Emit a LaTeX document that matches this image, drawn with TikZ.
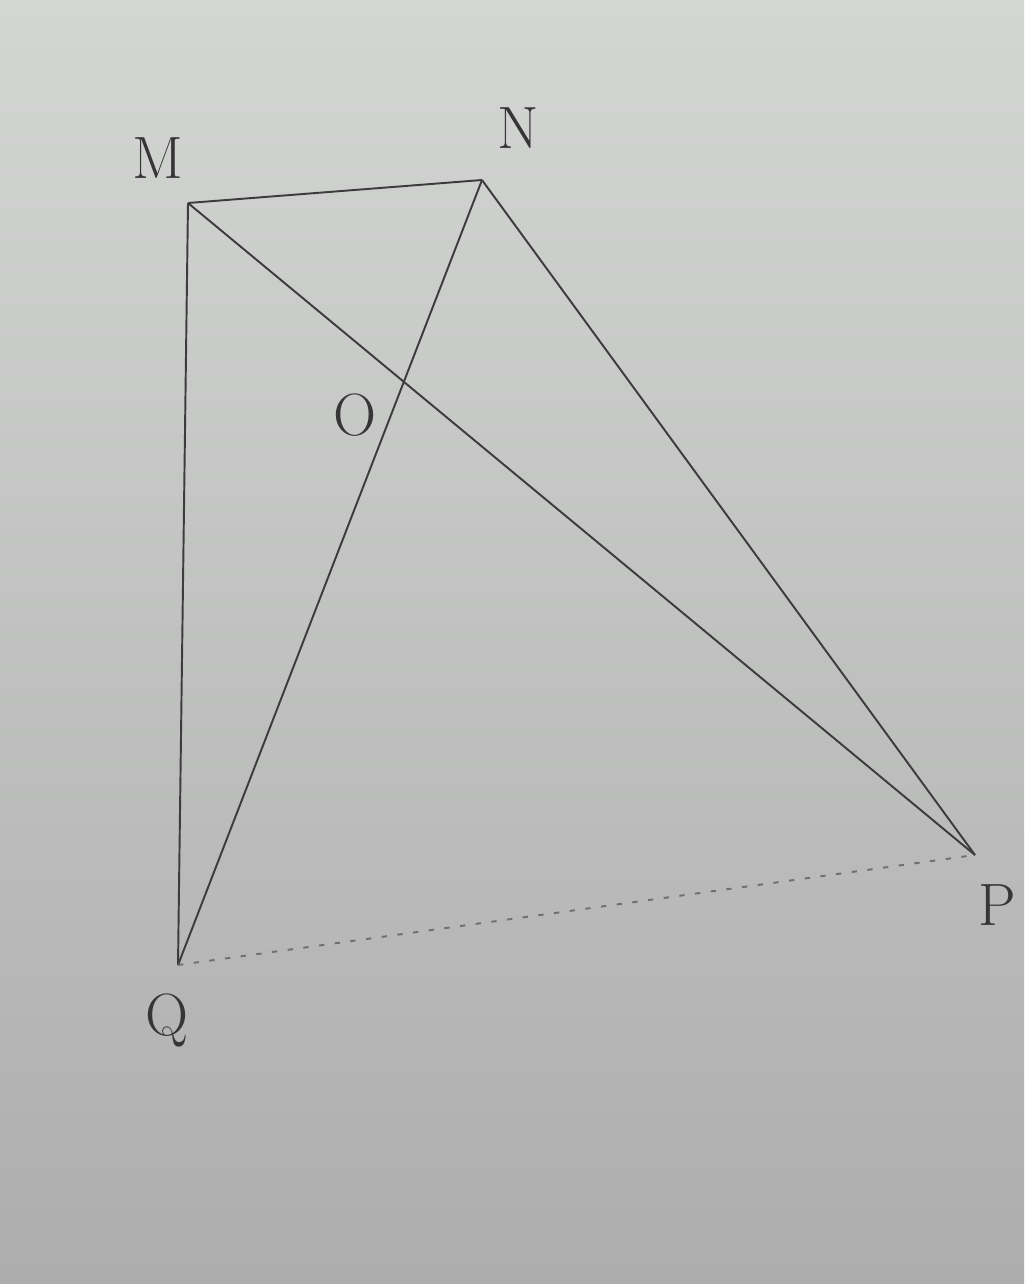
\documentclass[tikz,border=0pt]{standalone}
\usetikzlibrary{calc}
\definecolor{papertop}{RGB}{212,214,212}
\definecolor{paperbot}{RGB}{172,173,172}
\definecolor{pencil}{RGB}{60,60,60}
\begin{document}
\begin{tikzpicture}[
  seg/.style={draw=pencil, line width=1.1pt},
  faint/.style={draw=pencil!55!paperbot, line width=1.1pt, dash pattern=on 3pt off 6pt},
  lbl/.style={text=pencil!90!black, font=\fontsize{34}{38}\selectfont, inner sep=0pt}
]
\shade[top color=papertop, bottom color=paperbot] (0,0) rectangle (20.48,-25.68);
\useasboundingbox (0,0) rectangle (20.48,-25.68);
\coordinate (M) at (3.76,-4.06);
\coordinate (N) at (9.64,-3.60);
\coordinate (P) at (19.50,-17.10);
\coordinate (Q) at (3.56,-19.30);
\coordinate (O) at (intersection of M--P and N--Q);
\draw[seg] (M) -- (N);
\draw[seg] (M) -- (Q);
\draw[seg] (N) -- (P);
\draw[seg] (M) -- (P);
\draw[seg] (N) -- (Q);
\draw[faint] (Q) -- (P);
\node[lbl] (lM) at (3.16,-3.16) {M};
\node[lbl] (lN) at (10.36,-2.56) {N};
\node[lbl] (lO) at (7.10,-8.30) {O};
\node[lbl] (lP) at (19.94,-18.10) {P};
\node[lbl] (lQ) at (3.34,-20.40) {Q};
\end{tikzpicture}
\end{document}
